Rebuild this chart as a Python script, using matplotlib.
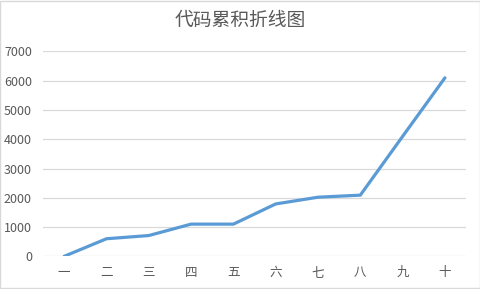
import matplotlib
matplotlib.use("Agg")
import matplotlib.pyplot as plt
from matplotlib.patches import Rectangle

plt.rcParams['font.family'] = ['Noto Sans CJK SC', 'DejaVu Sans']

categories = ["一", "二", "三", "四", "五", "六", "七", "八", "九", "十"]
values = [0, 600, 710, 1100, 1100, 1790, 2020, 2090, 4100, 6100]
y_ticks = [0, 1000, 2000, 3000, 4000, 5000, 6000, 7000]

text_color = "#595959"
grid_color = "#d9d9d9"
line_color = "#5b9bd5"

fig = plt.figure(figsize=(4.81, 2.89), dpi=100)
ax = fig.add_axes([0.0894, 0.1131, 0.969 - 0.0894, 0.8218 - 0.1131])

x = list(range(len(categories)))
ax.plot(x, values, color=line_color, linewidth=2.3, solid_capstyle="round",
        solid_joinstyle="round", zorder=3)

ax.set_xlim(-0.5, len(categories) - 0.5)
ax.set_ylim(0, 7000)
ax.set_yticks(y_ticks)
ax.set_yticklabels([str(v) for v in y_ticks])
ax.set_xticks(x)
ax.set_xticklabels(categories)

ax.grid(axis="y", color=grid_color, linewidth=0.9)
ax.set_axisbelow(True)
for side in ("top", "right", "left", "bottom"):
    ax.spines[side].set_visible(False)
ax.tick_params(axis="both", length=0, colors=text_color, labelsize=9)
ax.tick_params(axis="y", pad=8)
ax.tick_params(axis="x", pad=7)

fig.text(0.5, 1 - 20 / 289, "代码累积折线图", ha="center", va="center",
         fontsize=13.5, color=text_color)

fig.patches.append(Rectangle((0.001, 0.002), 0.997, 0.995, transform=fig.transFigure,
                             fill=False, edgecolor=grid_color, linewidth=1))

fig.savefig("out.png", dpi=100)
